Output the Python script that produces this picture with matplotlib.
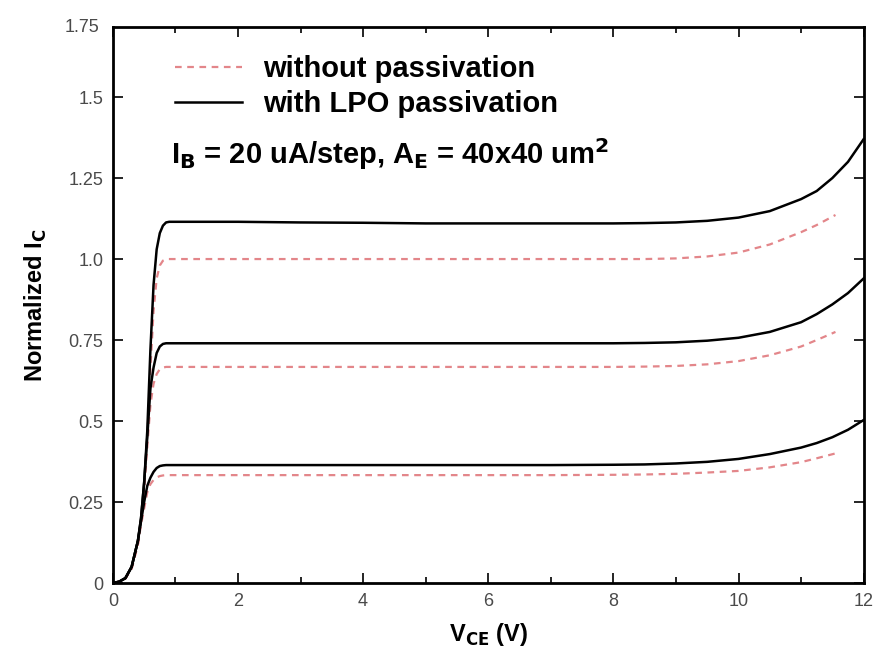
import matplotlib.pyplot as plt
from matplotlib.ticker import MultipleLocator

plt.rcParams['font.family'] = ['Liberation Sans', 'DejaVu Sans']

# V_CE sample points (V)
vce = [0, 0.1, 0.2, 0.3, 0.4, 0.45, 0.5, 0.55, 0.6, 0.65, 0.7, 0.75, 0.8, 0.85,
       0.9, 1.0, 2, 3, 4, 5, 6, 7, 8, 8.5, 9, 9.5, 10, 10.5, 11, 11.25, 11.5,
       11.75, 12]

# with LPO passivation (solid), three base-current steps
lpo_high = [0, 0.004, 0.015, 0.05, 0.13, 0.2, 0.31, 0.47, 0.72, 0.92, 1.03, 1.08,
            1.103, 1.113, 1.115, 1.115, 1.115, 1.113, 1.112, 1.11, 1.11, 1.11,
            1.11, 1.111, 1.113, 1.118, 1.128, 1.148, 1.185, 1.21, 1.25, 1.30, 1.37]
lpo_mid = [0, 0.004, 0.015, 0.05, 0.13, 0.2, 0.31, 0.45, 0.6, 0.665, 0.71, 0.73,
           0.738, 0.74, 0.74, 0.74, 0.74, 0.74, 0.74, 0.74, 0.74, 0.74,
           0.74, 0.741, 0.743, 0.748, 0.757, 0.775, 0.805, 0.83, 0.86, 0.895, 0.94]
lpo_low = [0, 0.004, 0.015, 0.05, 0.13, 0.19, 0.25, 0.30, 0.325, 0.343, 0.355, 0.361,
           0.363, 0.364, 0.364, 0.364, 0.364, 0.364, 0.364, 0.364, 0.364, 0.364,
           0.365, 0.366, 0.369, 0.374, 0.383, 0.398, 0.418, 0.432, 0.45, 0.473, 0.503]

# without passivation (dashed) stops at ~11.55 V
vce_np = [0, 0.1, 0.2, 0.3, 0.4, 0.45, 0.5, 0.55, 0.6, 0.65, 0.7, 0.75, 0.8, 0.85,
          0.9, 1.0, 2, 3, 4, 5, 6, 7, 8, 8.5, 9, 9.5, 10, 10.5, 11, 11.25, 11.55]
np_high = [0, 0.004, 0.014, 0.045, 0.12, 0.19, 0.30, 0.45, 0.66, 0.84, 0.94, 0.98,
           0.995, 1.0, 1.0, 1.0, 1.0, 1.0, 1.0, 1.0, 1.0, 1.0,
           1.0, 1.0, 1.002, 1.008, 1.02, 1.045, 1.083, 1.105, 1.136]
np_mid = [0, 0.004, 0.014, 0.045, 0.12, 0.19, 0.29, 0.42, 0.55, 0.615, 0.645, 0.66,
          0.665, 0.667, 0.667, 0.667, 0.667, 0.667, 0.667, 0.667, 0.667, 0.667,
          0.667, 0.668, 0.67, 0.675, 0.685, 0.703, 0.73, 0.75, 0.775]
np_low = [0, 0.004, 0.014, 0.045, 0.12, 0.18, 0.23, 0.28, 0.305, 0.318, 0.326, 0.33,
          0.332, 0.333, 0.333, 0.333, 0.333, 0.333, 0.333, 0.333, 0.333, 0.333,
          0.334, 0.335, 0.337, 0.341, 0.346, 0.357, 0.373, 0.385, 0.40]

y_ticks = [0, 0.25, 0.5, 0.75, 1.0, 1.25, 1.5]
y_labels = ['0', '0.25', '0.5', '0.75', '1.0', '1.25', '1.5']

dash_color = '#e3868a'
tick_color = '#4a4a4a'

fig = plt.figure(figsize=(8.75, 6.61), dpi=100)
ax = fig.add_axes([0.129, 0.118, 0.858, 0.841])

for i, ys in enumerate([np_high, np_mid, np_low]):
    ax.plot(vce_np, ys, color=dash_color, lw=1.6, ls=(0, (3, 2.5)),
            label='without passivation' if i == 0 else None)
for i, ys in enumerate([lpo_high, lpo_mid, lpo_low]):
    ax.plot(vce, ys, color='black', lw=1.8,
            label='with LPO passivation' if i == 0 else None)

ax.set_xlim(0, 12)
ax.set_ylim(0, 1.716)
ax.xaxis.set_major_locator(MultipleLocator(2))
ax.xaxis.set_minor_locator(MultipleLocator(1))
ax.set_yticks(y_ticks)
ax.set_yticklabels(y_labels)
# the 1.75 label sits at the top edge of the frame
ax.text(-0.018, 1.0, '1.75', transform=ax.transAxes, ha='right', va='center',
        fontsize=13, color=tick_color)

ax.tick_params(which='both', direction='in', top=True, right=True,
               labelsize=13, labelcolor=tick_color, width=1.2)
ax.tick_params(which='major', length=7, pad=7)
ax.tick_params(which='minor', length=4)
for s in ax.spines.values():
    s.set_linewidth(2)

ax.set_xlabel(r'V$_{\mathbf{CE}}$ (V)', fontsize=17, fontweight='bold', labelpad=8)
ax.set_ylabel(r'Normalized I$_{\mathbf{C}}$', fontsize=17, fontweight='bold', labelpad=14)

ax.legend(loc='upper left', bbox_to_anchor=(0.048, 0.997), frameon=False,
          prop={'size': 21, 'weight': 'bold'}, handlelength=2.3, handletextpad=0.7,
          labelspacing=0.25)
ax.text(0.078, 0.772, r'I$_{\mathbf{B}}$ = 20 uA/step, A$_{\mathbf{E}}$ = 40x40 um$^{\mathbf{2}}$',
        transform=ax.transAxes, fontsize=21, fontweight='bold', va='center')

fig.savefig('out.png', dpi=100)
